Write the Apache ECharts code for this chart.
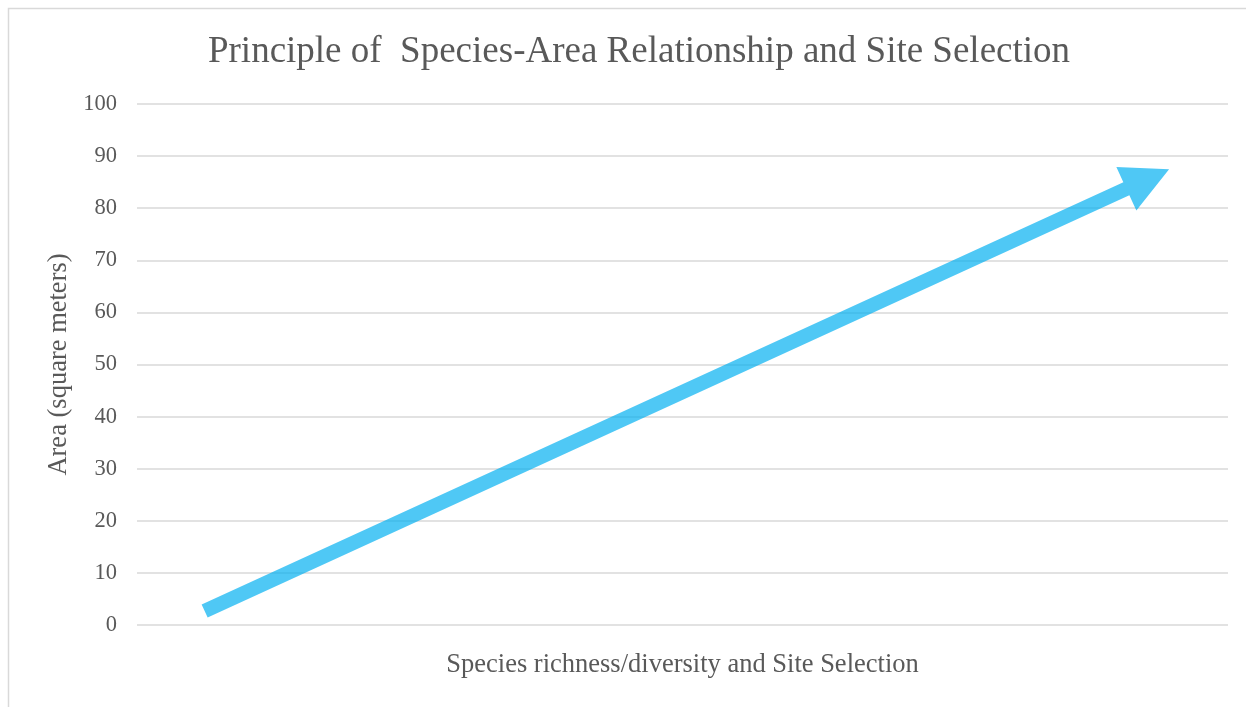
<!DOCTYPE html>
<html>
<head>
<meta charset="utf-8">
<script src="https://cdn.jsdelivr.net/npm/echarts@6/dist/echarts.min.js"></script>
<style>
  html, body { margin: 0; padding: 0; background: #ffffff; }
  #chart { width: 1246px; height: 707px; }
</style>
</head>
<body>
<div id="chart"></div>
<script>
// Trend arrow: tail and tip positions (x on a 0–100 hidden scale, y in square meters)
const trendX = [6.2, 94.6];
const trendY = [2.7, 87.5];
// Vertical axis ticks
const yTicks = [0, 10, 20, 30, 40, 50, 60, 70, 80, 90, 100];

const titleText = 'Principle of  Species-Area Relationship and Site Selection';
const xName = 'Species richness/diversity and Site Selection';
const yName = 'Area (square meters)';

const serif = '"Liberation Serif", "Times New Roman", serif';
const chart = echarts.init(document.getElementById('chart'), null, { renderer: 'canvas' });

const option = {
  backgroundColor: '#ffffff',
  animation: false,
  title: {
    text: titleText,
    left: 634,
    textAlign: 'center',
    top: 29,
    textStyle: { fontFamily: serif, fontSize: 37, fontWeight: 'normal', color: '#595959' }
  },
  graphic: [{
    type: 'rect',
    shape: { x: 8.5, y: 8.5, width: 1260, height: 720 },
    style: { fill: 'none', stroke: '#d9d9d9', lineWidth: 1.5 },
    silent: true
  }],
  grid: { left: 137, right: 18, top: 104, bottom: 82 },
  xAxis: {
    type: 'value',
    min: 0, max: 100,
    name: xName,
    nameLocation: 'middle',
    nameGap: 27,
    nameTextStyle: { fontFamily: serif, fontSize: 26.5, color: '#595959' },
    axisLine: { show: false },
    axisTick: { show: false },
    axisLabel: { show: false },
    splitLine: { show: false }
  },
  yAxis: {
    type: 'value',
    min: yTicks[0], max: yTicks[yTicks.length - 1], interval: 10,
    name: yName,
    nameLocation: 'middle',
    nameGap: 63,
    nameTextStyle: { fontFamily: serif, fontSize: 26.5, color: '#595959' },
    axisLine: { show: false },
    axisTick: { show: false },
    axisLabel: { fontFamily: serif, fontSize: 22.5, color: '#595959', margin: 20 },
    splitLine: { lineStyle: { color: '#d9d9d9', width: 1.5 } }
  },
  series: [{
    type: 'custom',
    coordinateSystem: 'cartesian2d',
    data: [[trendX[0], trendY[0], trendX[1], trendY[1]]],
    z: 3,
    renderItem: function (params, api) {
      const a = api.coord([api.value(0), api.value(1)]);
      const b = api.coord([api.value(2), api.value(3)]);
      const dx = b[0] - a[0], dy = b[1] - a[1];
      const len = Math.sqrt(dx * dx + dy * dy);
      const ux = dx / len, uy = dy / len;
      const nx = -uy, ny = ux;
      const shaftHalf = 7.2, headHalf = 24, headLen = 47;
      const bx = b[0] - ux * headLen, by = b[1] - uy * headLen;
      const pts = [
        [a[0] + nx * shaftHalf, a[1] + ny * shaftHalf],
        [bx + nx * shaftHalf, by + ny * shaftHalf],
        [bx + nx * headHalf, by + ny * headHalf],
        [b[0], b[1]],
        [bx - nx * headHalf, by - ny * headHalf],
        [bx - nx * shaftHalf, by - ny * shaftHalf],
        [a[0] - nx * shaftHalf, a[1] - ny * shaftHalf]
      ];
      return {
        type: 'polygon',
        shape: { points: pts },
        style: { fill: 'rgba(0,176,240,0.69)', stroke: 'none' }
      };
    }
  }]
};
chart.setOption(option);
</script>
</body>
</html>
